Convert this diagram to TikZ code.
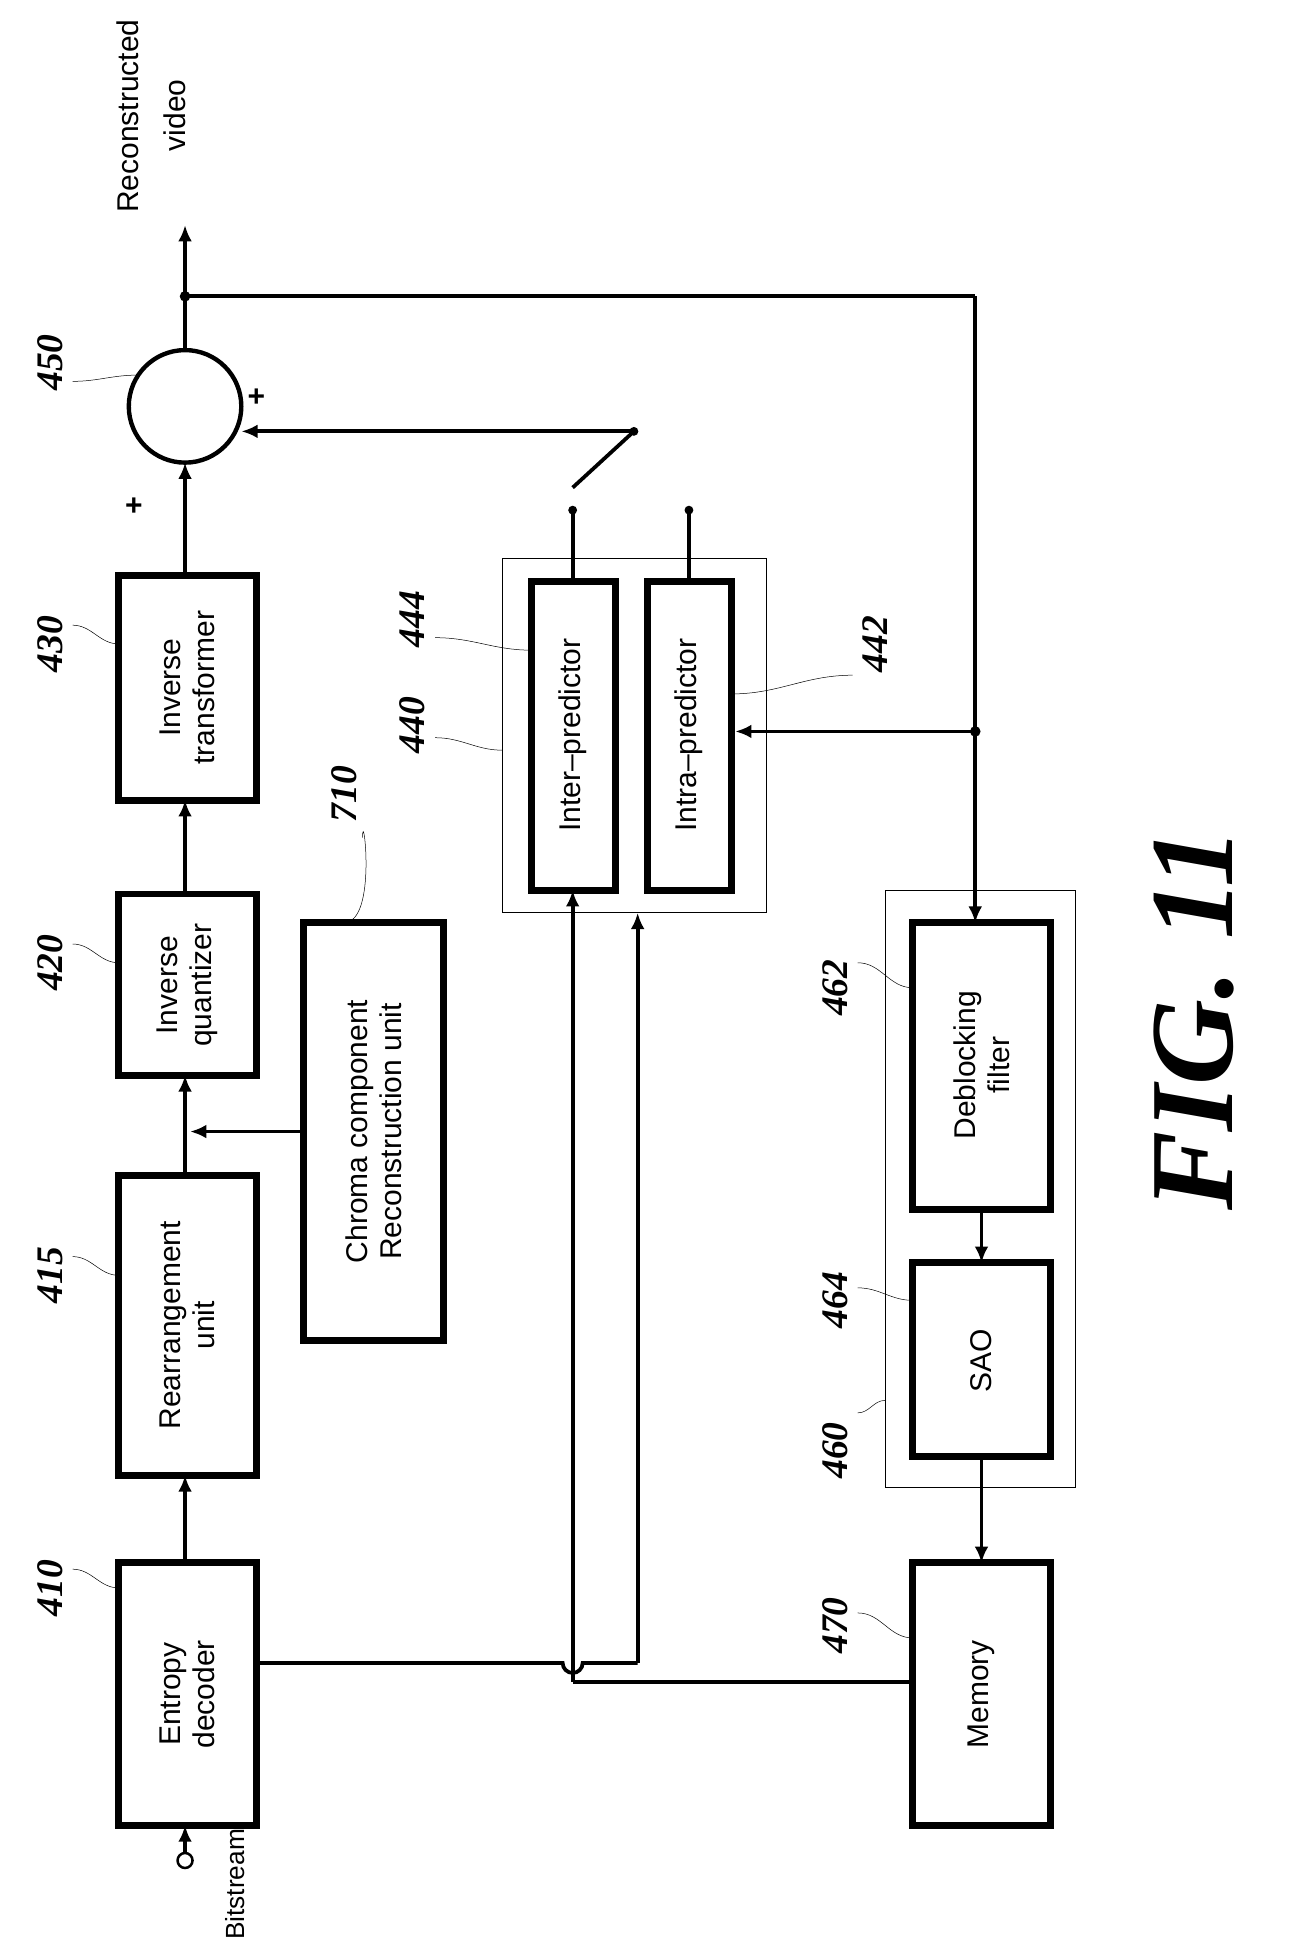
\documentclass[tikz,border=0pt]{standalone}
\usepackage{fontspec}
\setmainfont{Liberation Sans}
\newfontfamily\numf{Liberation Serif}
\usetikzlibrary{arrows.meta}
\begin{document}
\begin{tikzpicture}[x=1pt,y=-1pt,
 blk/.style={draw,line width=5.5pt,inner sep=0pt},
 txt/.style={rotate=90,align=center,font=\fontsize{24}{27}\selectfont},
 num/.style={rotate=90,font=\fontsize{30}{30}\selectfont\numf\bfseries\itshape},
 ln/.style={line width=3pt},
 arr/.style={ln,-{Latex[length=13pt,width=11pt]}},
 dot/.style={circle,fill,inner sep=3pt}]
\useasboundingbox (0,0) rectangle (1050,1558);
% boxes
\draw[blk] (95,1250) rectangle (205,1460); \node[txt] (ed) at (150,1355) {Entropy\\decoder};
\coordinate (edB) at (148,1460); \coordinate (edR) at (205,1330);
\draw[blk] (95,940) rectangle (205,1180); \node[txt] (ru) at (150,1060) {Rearrangement\\unit};
\draw[blk] (95,715) rectangle (205,860); \node[txt] (iq) at (150,788) {Inverse\\quantizer};
\draw[blk] (95,460) rectangle (205,640); \node[txt] (it) at (150,550) {Inverse\\transformer};
\draw[blk] (243,738) rectangle (355,1072); \node[txt] (cr) at (299,905) {Chroma component\\Reconstruction unit};
\draw[line width=3.5pt] (148,325) circle (45); \coordinate (c) at (148,325);
\draw[line width=0.9pt] (402,447) rectangle (613,730);
\draw[blk] (425,465) rectangle (492,712); \node[txt] (inter) at (458,588) {Inter--predictor};
\draw[blk] (518,465) rectangle (585,712); \node[txt] (intra) at (551,588) {Intra--predictor};
\draw[line width=0.9pt] (708,712) rectangle (860,1190);
\draw[blk] (730,738) rectangle (840,967); \node[txt] (df) at (785,852) {Deblocking\\filter};
\draw[blk] (730,1010) rectangle (840,1165); \node[txt] (sao) at (785,1088) {SAO};
\draw[blk] (730,1250) rectangle (840,1460); \node[txt] (mem) at (785,1355) {Memory};
% main chain
\draw[line width=2pt] (148,1488) circle (6);
\draw[arr] (148,1482) -- (edB);
\draw[arr] (148,1250) -- (148,1180);
\draw[arr] (148,940) -- (148,860);
\draw[arr] (148,715) -- (148,640);
\draw[arr] (148,460) -- (148,370);
\draw[arr] (148,280) -- (148,180);
\draw[arr] (243,905) -- (152,905);
% feedback
\node[dot] at (148,237) {}; \node[dot] at (780,585) {};
\draw[ln] (148,237) -- (780,237);
\draw[arr] (780,237) -- (780,738);
\draw[arr] (780,585) -- (588,585);
% switch
\draw[ln] (458,465) -- (458,410); \node[dot,inner sep=2.5pt] at (458,408) {};
\draw[ln] (551,465) -- (551,410); \node[dot,inner sep=2.5pt] at (551,408) {};
\draw[ln] (458,390) -- (507,345); \node[dot,inner sep=2.5pt] at (507,345) {};
\draw[arr] (507,345) -- (193,345);
\node[font=\fontsize{24}{24}\selectfont\bfseries] at (205,318) {+};
\node[font=\fontsize{24}{24}\selectfont\bfseries] at (107,405) {+};
% entropy -> 440
\draw[ln] (edR) -- (450,1330) arc[start angle=180,end angle=0,radius=8] -- (510,1330);
\draw[arr] (510,1330) -- (510,730);
\draw[ln] (730,1345) -- (458,1345);
\draw[arr] (458,1345) -- (458,712);
\draw[arr] (785,967) -- (785,1010);
\draw[arr] (785,1165) -- (785,1250);
% texts
\node[txt,anchor=east] at (102,12) {Reconstructed};
\node[txt,anchor=east] at (140,60) {video};
\node[txt,anchor=west,font=\fontsize{21}{24}\selectfont] at (188,1555) {Bitstream};
\node[num] at (40,1270) {410}; \draw (58,1255) to[out=0,in=180] (95,1270);
\node[num] at (40,1020) {415}; \draw (58,1005) to[out=0,in=180] (95,1020);
\node[num] at (40,770) {420}; \draw (58,755) to[out=0,in=180] (95,770);
\node[num] at (40,515) {430}; \draw (58,500) to[out=0,in=180] (95,515);
\node[num] at (40,290) {450}; \draw (58,305) to[out=0,in=180] (110,300);
\node[num] at (275,635) {710}; \draw (290,670) to[out=90,in=0] (275,738);
\node[num] at (330,580) {440}; \draw (348,590) to[out=0,in=180] (402,600);
\node[num] at (330,495) {444}; \draw (348,510) to[out=0,in=180] (425,520);
\node[num] at (700,515) {442}; \draw (682,540) to[out=180,in=0] (585,555);
\node[num] at (668,790) {462}; \draw (686,770) to[out=0,in=180] (730,790);
\node[num] at (668,1040) {464}; \draw (686,1030) to[out=0,in=180] (730,1040);
\node[num] at (668,1160) {460}; \draw (686,1130) to[out=0,in=180] (708,1120);
\node[num] at (668,1300) {470}; \draw (686,1290) to[out=0,in=180] (730,1310);
\node[rotate=90,font=\fontsize{95}{95}\selectfont\numf\bfseries\itshape] (fig) at (955,815) {FIG. 11};
\end{tikzpicture}
\end{document}
